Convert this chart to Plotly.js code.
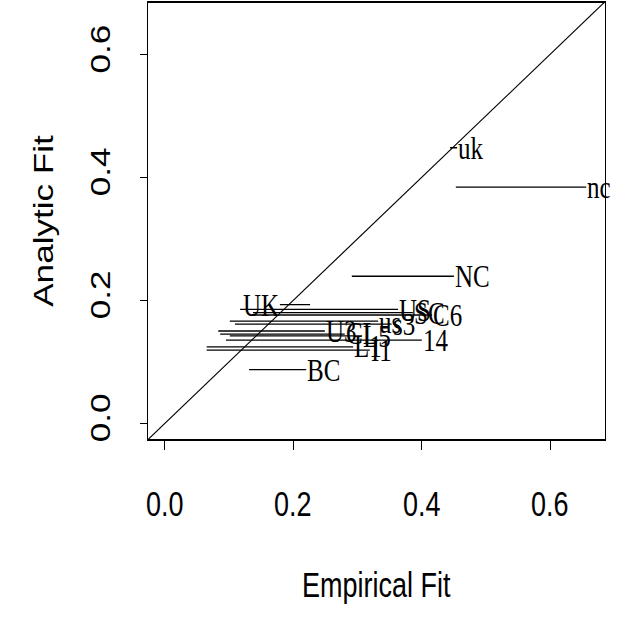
<!DOCTYPE html>
<html>
<head>
<meta charset="utf-8">
<script src="https://cdn.plot.ly/plotly-3.0.1.min.js"></script>
<style>
  html, body { margin: 0; padding: 0; background: #fff; }
  body { width: 634px; height: 619px; }
  #chart { width: 634px; height: 476px; transform-origin: 0 0; }
</style>
</head>
<body>
<div id="chart"></div>
<script>
// Data
const labels   = ["uk",  "nc",  "NC",  "UK",  "US",  "SC",  "C6",  "us",  "s3",  "U3",  "CL",  "L5",  "14",  "L1",  "I1",  "BC"];
const analytic = [0.448, 0.384, 0.239, 0.193, 0.185, 0.180, 0.176, 0.166, 0.161, 0.150, 0.145, 0.142, 0.135, 0.124, 0.119, 0.087];
const empLow   = [0.444, 0.453, 0.291, 0.179, 0.117, 0.137, 0.135, 0.101, 0.109, 0.083, 0.086, 0.101, 0.095, 0.065, 0.065, 0.131];
const empHigh  = [0.455, 0.656, 0.450, 0.226, 0.363, 0.386, 0.416, 0.332, 0.353, 0.249, 0.280, 0.307, 0.400, 0.293, 0.319, 0.220];
const labelAtLow = ["UK"];   // labels written at the left end of their segment
const tickVals = [0.0, 0.2, 0.4, 0.6];
const tickText = ["0.0", "0.2", "0.4", "0.6"];
const xTitle = "Empirical Fit";
const yTitle = "Analytic Fit";
const xRange = [-0.0264, 0.6853];
const yRange = [-0.0263, 0.6840];

const segX = [], segY = [];
for (let i = 0; i < labels.length; i++) {
  segX.push(empLow[i], empHigh[i], null);
  segY.push(analytic[i], analytic[i], null);
}

const serif = { family: 'Liberation Serif, Times New Roman, serif', size: 25, color: '#000' };
const sans  = { family: 'Liberation Sans, Arial, Helvetica, sans-serif', size: 27, color: '#000' };

const annotations = labels.map((lab, i) => {
  const atLow = labelAtLow.includes(lab);
  return {
    x: atLow ? empLow[i] : empHigh[i], y: analytic[i],
    xref: 'x', yref: 'y', text: lab, showarrow: false,
    xanchor: atLow ? 'right' : 'left', yanchor: 'middle',
    borderpad: 0, font: Object.assign({}, serif)
  };
});

// x tick labels and x title, placed below the plot box
const plotH = 476 - 1.5 - 137.5;
tickVals.forEach((v, i) => {
  annotations.push({
    x: v, xref: 'x', y: -50 / plotH, yref: 'paper',
    text: tickText[i], showarrow: false, xanchor: 'center', yanchor: 'middle',
    borderpad: 0, font: Object.assign({}, sans)
  });
});
annotations.push({
  x: 0.5, xref: 'paper', y: -112 / plotH, yref: 'paper',
  text: xTitle, showarrow: false, xanchor: 'center', yanchor: 'middle',
  borderpad: 0, font: Object.assign({}, sans)
});

const traces = [
  { type: 'scatter', mode: 'lines', x: segX, y: segY,
    line: { color: '#000', width: 1 }, hoverinfo: 'skip', showlegend: false }
];

const layout = {
  width: 634, height: 476,
  margin: { l: 148, r: 29, t: 1.5, b: 137.5 },
  paper_bgcolor: '#fff', plot_bgcolor: '#fff',
  showlegend: false,
  xaxis: {
    range: xRange, tickvals: tickVals, ticktext: tickText, showticklabels: false,
    showgrid: false, zeroline: false,
    showline: true, mirror: true, linecolor: '#000', linewidth: 1,
    ticks: 'outside', ticklen: 7, tickwidth: 1, tickcolor: '#000'
  },
  yaxis: {
    range: yRange, tickvals: tickVals, ticktext: tickText,
    showgrid: false, zeroline: false,
    showline: true, mirror: true, linecolor: '#000', linewidth: 1,
    ticks: 'outside', ticklen: 7, tickwidth: 1, tickcolor: '#000',
    tickangle: -90, ticklabelstandoff: 19,
    tickfont: Object.assign({}, sans),
    title: { text: yTitle, font: Object.assign({}, sans), standoff: 24 }
  },
  shapes: [{
    type: 'line', xref: 'x', yref: 'y',
    x0: yRange[0], y0: yRange[0], x1: yRange[1], y1: yRange[1],
    line: { color: '#000', width: 1 }
  }],
  annotations: annotations
};

Plotly.newPlot('chart', traces, layout, { displayModeBar: false })
  .then(() => {
    // the reference picture is stretched vertically; apply the same stretch after layout
    document.getElementById('chart').style.transform = 'scaleY(1.3)';
  });
</script>
</body>
</html>
